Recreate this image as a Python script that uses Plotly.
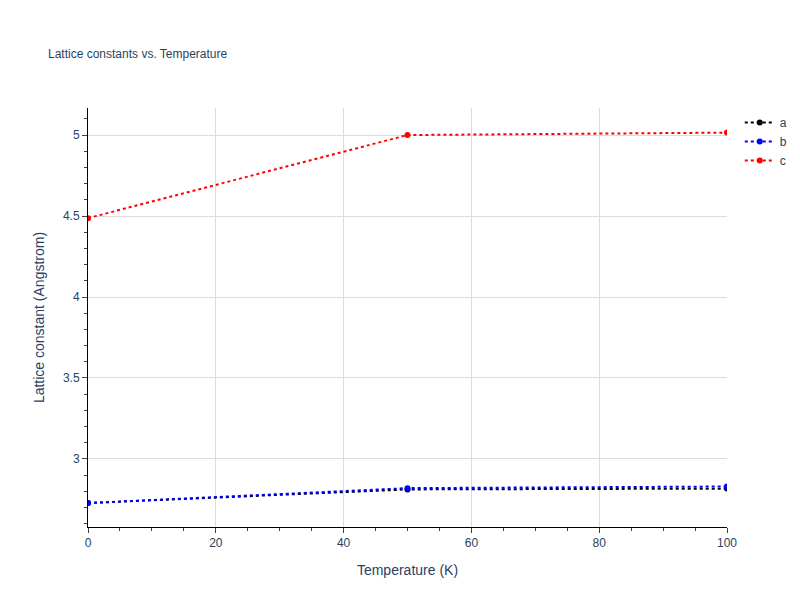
import plotly.graph_objects as go

temps = [0, 50, 100]
a_vals = [2.728, 2.812, 2.817]
b_vals = [2.728, 2.820, 2.830]
c_vals = [4.487, 5.000, 5.015]

fig = go.Figure()
for name, vals, col in [("a", a_vals, "black"), ("b", b_vals, "blue"), ("c", c_vals, "red")]:
    fig.add_trace(go.Scatter(x=temps, y=vals, name=name, mode="lines+markers",
                             line=dict(color=col, dash="dot", width=2),
                             marker=dict(color=col, size=6)))

axis = dict(showline=True, linecolor="black", gridcolor="#dcdcdc", zeroline=False,
            ticks="outside")
fig.update_layout(
    font=dict(family="Arial, Liberation Sans"),
    title=dict(text="Lattice constants vs. Temperature", font=dict(size=12), x=0.05),
    xaxis=dict(title="Temperature (K)", range=[0, 100], dtick=20,
               minor=dict(ticks="outside", dtick=5, showgrid=False), **axis),
    yaxis=dict(title="Lattice constant (Angstrom)", range=[2.58, 5.167], dtick=0.5,
               minor=dict(ticks="outside", dtick=0.1, showgrid=False), **axis),
    plot_bgcolor="white", width=800, height=600,
    margin=dict(l=80, r=81, t=100, b=81),
)
fig.write_html("out.html")
